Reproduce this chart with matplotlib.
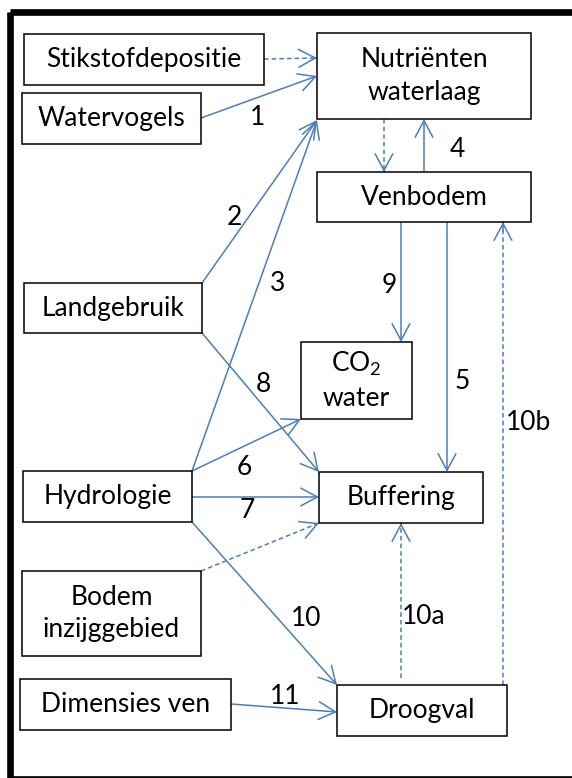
import matplotlib.pyplot as plt
from matplotlib.patches import Rectangle

# diagram of nutrient / buffering relations in a fen (ven)
plt.rcParams['font.family'] = ['Lato', 'DejaVu Sans']
plt.rcParams['mathtext.fontset'] = 'custom'
plt.rcParams['mathtext.rm'] = 'Lato'
plt.rcParams['mathtext.it'] = 'Lato'

# box texts
box_names = ['stik', 'vogel', 'nutr', 'venb', 'land', 'hydro', 'co2', 'buf', 'bodem', 'dim', 'droog']
box_texts = ['Stikstofdepositie', 'Watervogels', 'Nutriënten\nwaterlaag', 'Venbodem',
             'Landgebruik', 'Hydrologie', 'CO$_2$\nwater', 'Buffering',
             'Bodem\ninzijggebied', 'Dimensies ven', 'Droogval']

# arrow list: source, target, label, dashed
arrow_src = ['stik', 'vogel', 'nutr', 'venb', 'land', 'hydro', 'land', 'hydro', 'hydro', 'venb', 'venb', 'droog', 'droog', 'bodem', 'hydro', 'dim']
arrow_dst = ['nutr', 'nutr', 'venb', 'nutr', 'nutr', 'nutr', 'buf', 'co2', 'buf', 'co2', 'buf', 'venb', 'buf', 'buf', 'droog', 'droog']
arrow_lbl = ['', '1', '', '4', '2', '3', '8', '6', '7', '9', '5', '10b', '10a', '', '10', '11']
arrow_dash = [True, False, True, False, False, False, False, False, False, False, False, True, True, True, False, False]

# layout in pixels (x0, y0, x1, y1), y going down
box_pos = {
    'stik': (24, 34, 264, 85), 'vogel': (22, 93, 201, 144),
    'nutr': (317, 33, 531, 119), 'venb': (317, 172, 531, 222),
    'land': (24, 283, 202, 333), 'hydro': (23, 471, 192, 522),
    'co2': (301, 342, 412, 419), 'buf': (319, 472, 483, 523),
    'bodem': (22, 571, 201, 656), 'dim': (20, 679, 231, 730),
    'droog': (337, 685, 507, 736),
}
# arrow start / end points
arrow_pts = [
    ((264, 59), (317, 58)), ((201, 118), (317, 76)), ((384, 119), (384, 172)),
    ((424, 172), (424, 119)), ((202, 283), (317, 120)), ((192, 471), (317, 120)),
    ((202, 333), (319, 472)), ((192, 471), (301, 419)), ((192, 497), (319, 497)),
    ((401, 222), (401, 342)), ((447, 222), (447, 472)), ((503, 685), (503, 222)),
    ((401, 678), (401, 523)), ((201, 571), (319, 523)), ((192, 522), (337, 685)),
    ((231, 704), (337, 712)),
]
label_pos = [None, (258, 117), None, (457, 149), (234, 217), (278, 283), (263, 384),
             (244, 467), (247, 510), (389, 285), (462, 381), (529, 422), (424, 617),
             None, (306, 619), (285, 697)]

blue = '#4a7ebb'
fs = 19

fig = plt.figure(figsize=(5.72, 7.78), dpi=100)
ax = fig.add_axes([0, 0, 1, 1])
ax.set_xlim(0, 572)
ax.set_ylim(778, 0)
ax.axis('off')

# outer frame (right side falls outside the picture)
ax.add_patch(Rectangle((10, 11.5), 600, 767, fill=False, lw=4.8, ec='black', clip_on=True))

for name, txt in zip(box_names, box_texts):
    x0, y0, x1, y1 = box_pos[name]
    ax.add_patch(Rectangle((x0, y0), x1 - x0, y1 - y0, fill=True, fc='white', ec='black', lw=1.1, zorder=3))
    ax.text((x0 + x1) / 2, (y0 + y1) / 2, txt, ha='center', va='center', fontsize=fs,
            linespacing=1.38, zorder=4)

for (p0, p1), lbl, dash, lp in zip(arrow_pts, arrow_lbl, arrow_dash, label_pos):
    if dash:
        ax.plot([p0[0], p1[0]], [p0[1], p1[1]], color=blue, lw=1.1, ls=(0, (3, 2)), zorder=2)
        # short solid piece for the head
        f = 0.98
        mid = (p0[0] + (p1[0] - p0[0]) * f, p0[1] + (p1[1] - p0[1]) * f)
        ax.annotate('', xy=p1, xytext=mid,
                    arrowprops=dict(arrowstyle='->,head_length=0.6,head_width=0.32', color=blue,
                                    lw=1.1, shrinkA=0, shrinkB=0, mutation_scale=20), zorder=2)
    else:
        ax.annotate('', xy=p1, xytext=p0,
                    arrowprops=dict(arrowstyle='->,head_length=0.6,head_width=0.32', color=blue,
                                    lw=1.1, shrinkA=0, shrinkB=0, mutation_scale=20), zorder=2)
    if lp is not None:
        ax.text(lp[0], lp[1], lbl, ha='center', va='center', fontsize=fs, zorder=4)

fig.savefig('out.png', dpi=100)
